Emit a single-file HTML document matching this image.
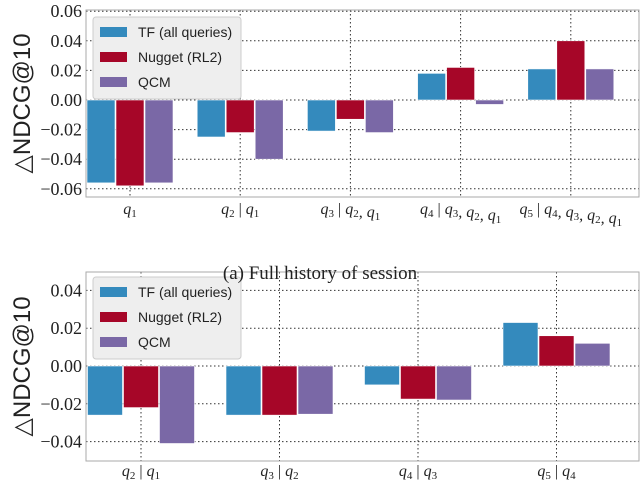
<!DOCTYPE html>
<html><head><meta charset="utf-8"><style>
body{margin:0;background:#fff;width:640px;height:482px;overflow:hidden}
svg text{font-family:"Liberation Serif",serif}
</style></head><body>
<svg id="s" width="640" height="482"></svg>
<script>
const seriesNames=["TF (all queries)","Nugget (RL2)","QCM"];
const colors=["#348ABD","#A60628","#7A68A6"];
const catsA=[["q","1",""],["q","2","q1"],["q","3","q2, q1"],["q","4","q3, q2, q1"],["q","5","q4, q3, q2, q1"]];
const tfA=[-0.056,-0.025,-0.021,0.018,0.021];
const nugA=[-0.058,-0.022,-0.013,0.022,0.040];
const qcmA=[-0.056,-0.040,-0.022,-0.003,0.021];
const ticksA=[0.06,0.04,0.02,0.00,-0.02,-0.04,-0.06];
const catsB=[["q","2","q1"],["q","3","q2"],["q","4","q3"],["q","5","q4"]];
const tfB=[-0.026,-0.026,-0.010,0.023];
const nugB=[-0.022,-0.026,-0.0175,0.016];
const qcmB=[-0.041,-0.0255,-0.018,0.012];
const ticksB=[0.04,0.02,0.00,-0.02,-0.04];
const NS="http://www.w3.org/2000/svg";
const svg=document.getElementById('s');
function mk(t,a,p){const e=document.createElementNS(NS,t);for(const k in a)e.setAttribute(k,a[k]);(p||svg).appendChild(e);return e;}
function fmt(v){const s=Math.abs(v).toFixed(2);return (v<0?"\u22120":"")+(v<0?s.slice(1):s);}
function chart(id,cats,series,ticks,cfg){
  const g=mk('g',{});
  
  
  const y=v=>cfg.y0-v*cfg.k;
  const x0=cfg.left,x1=639;
  const cx=i=>cfg.c0+i*cfg.step;
  ticks.forEach(t=>{
    const l=mk('line',{x1:x0,x2:x1,y1:y(t),y2:y(t),stroke:'#333','stroke-dasharray':'1.5,2.5','stroke-width':1},g);
    
    
    const tx=mk('text',{x:x0-4,y:y(t)+6,'text-anchor':'end','font-size':18,fill:'#222'},g);
    tx.textContent=fmt(t);
    
    
  });
  cats.forEach((c,i)=>{
    const l=mk('line',{x1:cx(i),x2:cx(i),y1:cfg.top,y2:cfg.bot,stroke:'#333','stroke-dasharray':'1.5,2.5','stroke-width':1},g);
    
    
  });
  series.forEach((vals,si)=>{
    vals.forEach((v,i)=>{
      const bx=cx(i)-1.5*cfg.bw+si*cfg.bw;
      const r=mk('rect',{x:bx+0.5,y:Math.min(y(0),y(v)),width:cfg.bw-1,height:Math.abs(y(v)-y(0)),fill:colors[si],stroke:'#fff','stroke-width':0.6},g);
      
      
    });
  });
  const f=mk('rect',{x:x0,y:cfg.top,width:x1-x0,height:cfg.bot-cfg.top,fill:'none',stroke:'#aaa','stroke-width':1},g);
  
  
  cats.forEach((c,i)=>{
    const t=mk('text',{x:cx(i),y:cfg.bot+cfg.ly,'text-anchor':'middle','font-size':16,'font-style':'italic',fill:'#222'},g);
    let h=c[0]+'<tspan font-size="11" dy="3" font-style="normal">'+c[1]+'</tspan>';
    if(c[2]){h+='<tspan dy="-3" font-style="normal"> | </tspan>'+c[2].replace(/q(\d)/g,'q<tspan font-size="11" dy="3" font-style="normal">$1</tspan><tspan dy="-3"></tspan>');}
    t.innerHTML=h;
    
    
  });
  const yt=mk('text',{transform:`translate(30,${(cfg.top+cfg.bot)/2}) rotate(-90)`,'text-anchor':'middle','font-size':24,fill:'#222',style:'font-family:"Liberation Sans",sans-serif'},g);
  yt.textContent='\u25B3NDCG@10';
  
  
  const lg=mk('g',{},g);
  
  
  mk('rect',{x:93,y:cfg.lt,width:148,height:82,rx:3,fill:'#eeeeee',stroke:'#ccc'},lg);
  seriesNames.forEach((n,si)=>{
    const yy=cfg.lt+10+si*25;
    const sw=mk('rect',{x:100,y:yy,width:27,height:10,fill:colors[si]},lg);
    
    
    const t=mk('text',{x:138,y:yy+10,'font-size':14,fill:'#222',style:'font-family:"Liberation Sans",sans-serif'},lg);
    t.textContent=n;
    
    
  });
}
chart('chart-full-history',catsA,[tfA,nugA,qcmA],ticksA,{y0:100,k:1480,left:86,top:10,bot:197,c0:130,step:110.2,bw:29,lt:17,ly:17});
chart('chart-previous-query',catsB,[tfB,nugB,qcmB],ticksB,{y0:366,k:1890,left:86,top:272,bot:461,c0:141,step:138.5,bw:36,lt:277,ly:15});
const cap=mk('text',{x:320,y:279,'text-anchor':'middle','font-size':19,fill:'#222'});
cap.textContent='(a) Full history of session';


</script>
</body></html>
